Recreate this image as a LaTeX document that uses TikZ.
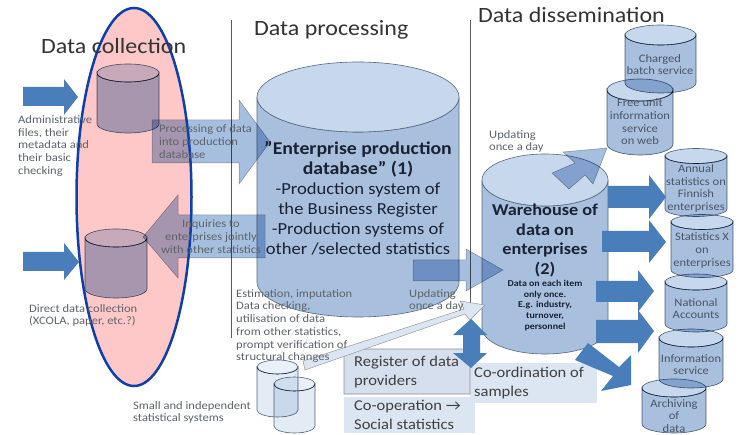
\documentclass[tikz,border=0pt]{standalone}
\usepackage{fontspec}
\setmainfont[FakeStretch=1.1]{Carlito}
\usetikzlibrary{calc}
\definecolor{cbody}{HTML}{A8C0DE}
\definecolor{ctop}{HTML}{C8D8EC}
\definecolor{cline}{HTML}{56677F}
\definecolor{pinkfill}{HTML}{FFC8C8}
\definecolor{ringblue}{HTML}{0F3FA8}
\definecolor{darkarrow}{HTML}{4A7EBB}
\definecolor{midarrow}{HTML}{A6BFDF}
\definecolor{lightbox}{HTML}{DCE6F2}
\definecolor{regbox}{HTML}{D5DFEE}
\definecolor{greytext}{HTML}{5F6369}
\definecolor{cyltext}{HTML}{4A5568}
\definecolor{darktext}{HTML}{1A2233}
\tikzset{
  cylside/.style={draw=cline,line width=.6pt,fill=cbody},
  cyltopface/.style={draw=cline,line width=.6pt,fill=ctop},
  paleside/.style={draw=cline,line width=.6pt,fill=lightbox!80!white},
  paletop/.style={draw=cline,line width=.6pt,fill=lightbox!60!white},
  solidarrow/.style={fill=darkarrow,draw=none},
  softarrow/.style={fill=midarrow,draw=gray!70,line width=.5pt},
  divider/.style={draw=black!65,line width=.7pt},
  small/.style={font=\fontsize{11.4}{12.7}\selectfont,text=greytext,inner sep=0pt},
  incyl/.style={font=\fontsize{11.4}{12.7}\selectfont,text=cyltext,inner sep=0pt,align=center},
  title/.style={font=\fontsize{21.8}{24}\selectfont,text=black!80,inner sep=0pt,anchor=west},
  boxtext/.style={font=\fontsize{15}{19}\selectfont,text=black!75,inner sep=0pt,anchor=west,align=left},
}
% name, cx, top centre y, bottom centre y, rx, ry, side style, top style
\newcommand{\cylshape}[8]{%
  \path[#7] ({#2-#5},#3) -- ({#2-#5},#4) arc[start angle=180,end angle=360,x radius=#5pt,y radius=#6pt]
    -- ({#2+#5},#3) arc[start angle=360,end angle=180,x radius=#5pt,y radius=#6pt] -- cycle;
  \path[#8] (#2,#3) ellipse[x radius=#5pt,y radius=#6pt];
  \coordinate (#1) at (#2,{(#3+#4)/2});
}
\begin{document}
\begin{tikzpicture}[x=1pt,y=-1pt]
\useasboundingbox (0,0) rectangle (741,435);
\fill[white] (0,0) rectangle (741,435);
% pink ellipse
\coordinate (ringc) at (134,197);
\fill[pinkfill] (ringc) ellipse[x radius=57.5pt,y radius=189pt];
% dividers
\draw[divider] (231,20) -- (231,338);
\draw[divider] (470,20) -- (470,320);
% boxes
\path[fill=lightbox] (344,397) rectangle (475,433);
\path[fill=lightbox] (470,363) rectangle (597,403);
\path[fill=regbox,draw=gray!90,line width=.7pt] (344,394) -- (344,355) -- (350,349) -- (470,349) -- (470,394) -- cycle;
% big cylinders
\cylshape{bigdb}{358}{97}{282}{101}{35}{cylside}{cyltopface}
\cylshape{warehouse}{545}{180}{328}{63}{26}{cylside}{cyltopface}
\begin{scope}[blend mode=multiply]
% data collection cylinders
\cylshape{admdb}{128}{73}{124}{31}{9}{cylside}{cyltopface}
\cylshape{dirdb}{116}{238}{289}{31}{9}{cylside}{cyltopface}
% small cylinders
\cylshape{smalla}{277.5}{367}{410}{20.5}{7}{paleside}{paletop}
\cylshape{smallb}{294.5}{384}{426}{20.5}{7}{paleside}{paletop}
% dissemination cylinders
\cylshape{charged}{660.5}{35}{83}{35.5}{10}{cylside}{cyltopface}
\cylshape{free}{640}{90}{144}{33}{11}{cylside}{cyltopface}
\cylshape{annual}{696}{156}{209}{31}{7.5}{cylside}{cyltopface}
\cylshape{statsx}{702}{222}{270}{31}{7.5}{cylside}{cyltopface}
\cylshape{national}{696}{282}{324}{31}{8}{cylside}{cyltopface}
\cylshape{infoserv}{691}{338}{379}{32}{9}{cylside}{cyltopface}
\cylshape{archive}{674}{388}{424}{32}{9}{cylside}{cyltopface}
% translucent arrows
\path[softarrow] (152,120) -- (239,120) -- (239,100) -- (270,142) -- (239,184) -- (239,163) -- (152,163) -- cycle;
\path[softarrow] (265,215) -- (178,215) -- (178,195) -- (143,237) -- (178,278) -- (178,258) -- (265,258) -- cycle;
\path[softarrow] (413,260) -- (466,260) -- (466,249) -- (503,270) -- (466,291) -- (466,281) -- (413,281) -- cycle;
\path[softarrow] (607,148) -- (563,152) -- (575,163) -- (552,173) -- (569,189) -- (585,175) -- (593,184) -- cycle;
\end{scope}
% long pale arrow
\path[fill=lightbox,draw=gray!80,line width=.5pt] (303,361) -- (464,309) -- (460,301) -- (485,305) -- (470,320) -- (465,314) -- (305,370) -- cycle;
% solid arrows
\path[solidarrow] (23,87) -- (64,87) -- (64,79) -- (78,97) -- (64,115) -- (64,106) -- (23,106) -- cycle;
\path[solidarrow] (23,252) -- (64,252) -- (64,243) -- (79,262) -- (64,280) -- (64,271) -- (23,271) -- cycle;
\path[solidarrow] (608,186) -- (649,186) -- (649,175) -- (666,197) -- (649,219) -- (649,208) -- (608,208) -- cycle;
\path[solidarrow] (602,231) -- (649,231) -- (649,220) -- (666,242) -- (649,263) -- (649,252) -- (602,252) -- cycle;
\path[solidarrow] (596,281) -- (638,281) -- (638,270) -- (654,291) -- (638,312) -- (638,302) -- (596,302) -- cycle;
\path[solidarrow] (596,320) -- (638,320) -- (638,310) -- (654,331) -- (638,353) -- (638,343) -- (596,343) -- cycle;
\path[solidarrow] (588,343) -- (619,367) -- (631,355) -- (631,385) -- (601,391) -- (613,376) -- (575,360) -- cycle;
\path[solidarrow] (471,319) -- (487,335) -- (480,335) -- (480,353) -- (487,353) -- (471,368) -- (453,353) -- (463,353) -- (463,335) -- (453,335) -- cycle;
% ring outline
\draw[ringblue,line width=2.5pt] (ringc) ellipse[x radius=57.5pt,y radius=189pt];
% titles
\node[title] (t1) at (41,46) {Data collection};
\node[title] (t2) at (254,30) {Data processing};
\node[title] (t3) at (478,15) {Data dissemination};
% small labels
\node[small,anchor=west,align=left] (l1) at (18,146) {Administrative\\files, their\\metadata and\\their basic\\checking};
\node[small,anchor=west,align=left] (l2) at (29,315.5) {Direct data collection\\(XCOLA, paper, etc.?)};
\node[small,anchor=west,align=left] (l3) at (133,412.5) {Small and independent\\statistical systems};
\node[small,anchor=west,align=left] (l4) at (159,141.5) {Processing of data\\into production\\database};
\node[small,align=center] (l5) at (211,236.5) {Inquiries to\\enterprises jointly\\with other statistics};
\node[small,anchor=west,align=left] (l6) at (236,326) {Estimation, imputation\\Data checking,\\utilisation of data\\from other statistics,\\prompt verification of\\structural changes};
\node[small,anchor=west,align=left] (l7) at (409,300.5) {Updating\\once a day};
\node[small,anchor=west,align=left] (l8) at (489,141.5) {Updating\\once a day};
% faint dashed leaders to the small systems
\coordinate (leada) at (307,308);
\coordinate (leadb) at (310,330);
\draw[gray!55,densely dotted,line width=.5pt] (leada) -- (smalla |- 0,360);
\draw[gray!55,densely dotted,line width=.5pt] (leadb) -- (smallb |- 0,378);
% inside cylinders
\node[incyl] (c1) at (660,64.5) {Charged\\batch service};
\node[incyl] (c2) at (640,122) {Free unit\\information\\service\\on web};
\node[incyl] (c3) at (696,188.5) {Annual\\statistics on\\Finnish\\enterprises};
\node[incyl] (c4) at (702,250.5) {Statistics X\\on\\enterprises};
\node[incyl] (c5) at (696,308.5) {National\\Accounts};
\node[incyl] (c6) at (691,364.5) {Information\\service};
\node[incyl] (c7) at (674,416) {Archiving\\of\\data};
% big database text
\node[font=\fontsize{16.9}{20}\selectfont,text=darktext,align=center,inner sep=0pt] (d1) at (358,198.5) {{\bfseries\fontsize{18}{20}\selectfont ”Enterprise production}\\{\bfseries\fontsize{18}{20}\selectfont database” (1)}\\-Production system of\\the Business Register\\-Production systems of\\other /selected statistics};
\node[font=\bfseries\fontsize{16.6}{19.7}\selectfont,text=darktext,align=center,inner sep=0pt] (d2) at (545,240.5) {Warehouse of\\data on\\enterprises\\(2)};
\node[font=\bfseries\fontsize{9}{10.7}\selectfont,text=darktext,align=center,inner sep=0pt] (d3) at (545,305.5) {Data on each item\\only once.\\E.g. industry,\\turnover,\\personnel};
% box text
\node[boxtext] (b1) at (354,372) {Register of data\\providers};
\node[boxtext] (b2) at (354,415) {Co-operation →\\Social statistics};
\node[boxtext] (b3) at (474,383) {Co-ordination of\\samples};
\end{tikzpicture}
\end{document}
